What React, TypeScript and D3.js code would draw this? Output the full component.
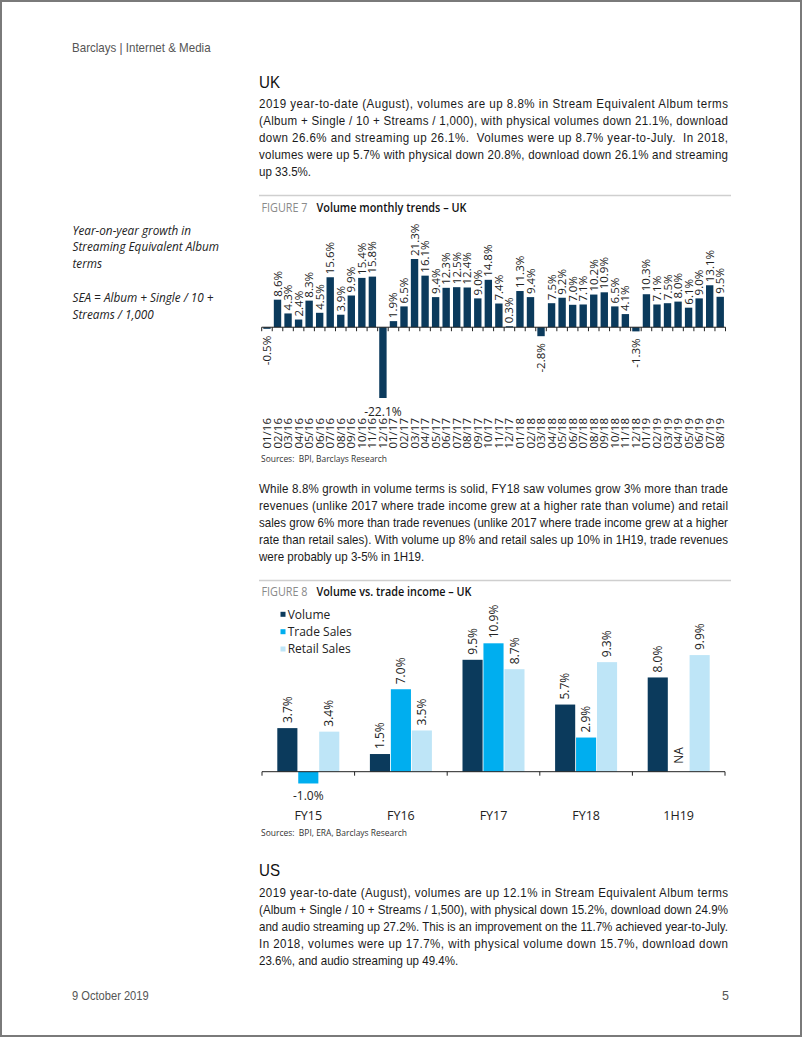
import React from "react";
import * as d3 from "d3";

// ---------- DATA ----------
const months = [
  "01/16", "02/16", "03/16", "04/16", "05/16", "06/16", "07/16", "08/16", "09/16", "10/16", "11/16", "12/16",
  "01/17", "02/17", "03/17", "04/17", "05/17", "06/17", "07/17", "08/17", "09/17", "10/17", "11/17", "12/17",
  "01/18", "02/18", "03/18", "04/18", "05/18", "06/18", "07/18", "08/18", "09/18", "10/18", "11/18", "12/18",
  "01/19", "02/19", "03/19", "04/19", "05/19", "06/19", "07/19", "08/19",
];
const monthlyGrowth = [
  -0.5, 8.6, 4.3, 2.4, 8.3, 4.5, 15.6, 3.9, 9.9, 15.4, 15.8, -22.1,
  1.9, 6.5, 21.3, 16.1, 9.4, 12.3, 12.5, 12.4, 9.0, 14.8, 7.4, 0.3,
  11.3, 9.4, -2.8, 7.5, 9.2, 7.0, 7.1, 10.2, 10.9, 6.5, 4.1, -1.3,
  10.3, 7.1, 7.5, 8.0, 6.1, 9.0, 13.1, 9.5,
];

const periods = ["FY15", "FY16", "FY17", "FY18", "1H19"];
const seriesNames = ["Volume", "Trade Sales", "Retail Sales"];
const volume = [3.7, 1.5, 9.5, 5.7, 8.0];
const tradeSales: (number | null)[] = [-1.0, 7.0, 10.9, 2.9, null];
const retailSales = [3.4, 3.5, 8.7, 9.3, 9.9];
const seriesColors = ["#0B3A5C", "#00AEEF", "#BEE5F7"];

const para1 = [
  "2019 year-to-date (August), volumes are up 8.8% in Stream Equivalent Album terms",
  "(Album + Single / 10 + Streams / 1,000), with physical volumes down 21.1%, download",
  "down 26.6% and streaming up 26.1%.  Volumes were up 8.7% year-to-July.  In 2018,",
  "volumes were up 5.7% with physical down 20.8%, download down 26.1% and streaming",
  "up 33.5%.",
];
const para2 = [
  "While 8.8% growth in volume terms is solid, FY18 saw volumes grow 3% more than trade",
  "revenues (unlike 2017 where trade income grew at a higher rate than volume) and retail",
  "sales grow 6% more than trade revenues (unlike 2017 where trade income grew at a higher",
  "rate than retail sales). With volume up 8% and retail sales up 10% in 1H19, trade revenues",
  "were probably up 3-5% in 1H19.",
];
const para3 = [
  "2019 year-to-date (August), volumes are up 12.1% in Stream Equivalent Album terms",
  "(Album + Single / 10 + Streams / 1,500), with physical down 15.2%, download down 24.9%",
  "and audio streaming up 27.2%. This is an improvement on the 11.7% achieved year-to-July.",
  "In 2018, volumes were up 17.7%, with physical volume down 15.7%, download down",
  "23.6%, and audio streaming up 49.4%.",
];
const sidebar = [
  "Year-on-year growth in",
  "Streaming Equivalent Album",
  "terms",
  "",
  "SEA = Album + Single / 10 +",
  "Streams / 1,000",
];

// ---------- STYLE ----------
const BODY_FONT = "'Liberation Sans', Arial, sans-serif";
const CHART_FONT = "'Open Sans', 'Noto Sans', sans-serif";
const SX = 0.89;
const TEXT_X = 259;
const TEXT_W = 469;

function Para({ lines, y0, lh }: { lines: string[]; y0: number; lh: number }) {
  return (
    <g fontFamily={BODY_FONT} fontSize={13} fill="#1a1a1a">
      {lines.map((t, i) => {
        const last = i === lines.length - 1;
        return (
          <text
            key={i}
            xmlSpace="preserve"
            style={{ whiteSpace: "pre" }}
            transform={`translate(${TEXT_X},${y0 + i * lh}) scale(${SX},1)`}
            textLength={last ? undefined : TEXT_W / SX}
            lengthAdjust="spacing"
          >
            {t}
          </text>
        );
      })}
    </g>
  );
}

const fmt = (v: number) => v.toFixed(1) + "%";

function Figure7() {
  const x = d3.scaleBand<string>().domain(months).range([261.7, 725.5]).paddingInner(0.3).paddingOuter(0.15);
  const y = d3.scaleLinear().domain([-22.1, 21.3]).range([398, 259]);
  const y0 = y(0);
  const step = x.step();
  const off = (step - x.bandwidth()) / 2;
  const ticks = months.map((m) => (x(m) as number) - off).concat([(x(months[months.length - 1]) as number) + x.bandwidth() + off]);
  const labelTop = 418;
  return (
    <g fontFamily={CHART_FONT}>
      <line x1={259} x2={731} y1={195.5} y2={195.5} stroke="#cfcfcf" strokeWidth={1.5} />
      <text x={261.5} y={212} fontSize={12.5} fill="#8a8a8a" textLength={46} lengthAdjust="spacingAndGlyphs">FIGURE 7</text>
      <text x={316.5} y={212} fontSize={12.5} fill="#111" fontWeight={600} textLength={150} lengthAdjust="spacingAndGlyphs">
        Volume monthly trends – UK
      </text>
      {monthlyGrowth.map((v, i) => {
        const m = months[i];
        const bx = x(m) as number;
        return (
          <rect key={m} x={bx} width={x.bandwidth()} y={Math.min(y(v), y0)} height={Math.abs(y(v) - y0)} fill={seriesColors[0]} />
        );
      })}
      <line x1={ticks[0]} x2={ticks[ticks.length - 1]} y1={y0} y2={y0} stroke="#222" strokeWidth={1} />
      {ticks.map((t, i) => (
        <line key={i} x1={t} x2={t} y1={y0} y2={y0 + 4} stroke="#222" strokeWidth={1} />
      ))}
      {monthlyGrowth.map((v, i) => {
        const m = months[i];
        const cx = (x(m) as number) + x.bandwidth() / 2;
        const txt = fmt(v);
        if (v >= 0) {
          return (
            <text key={m} transform={`translate(${cx},${y(v) - 3}) rotate(-90)`} dy="0.35em" fontSize={11.5} fill="#222">
              {txt}
            </text>
          );
        }
        const bottom = y(v);
        const len = txt.length * 6.8;
        if (bottom + 7 + len > labelTop - 2) {
          return (
            <text key={m} x={cx} y={bottom + 18} textAnchor="middle" fontSize={12} fill="#222">
              {txt}
            </text>
          );
        }
        return (
          <text key={m} transform={`translate(${cx},${bottom + 7}) rotate(-90)`} dy="0.35em" textAnchor="end" fontSize={11.5} fill="#222">
            {txt}
          </text>
        );
      })}
      {months.map((m) => {
        const cx = (x(m) as number) + x.bandwidth() / 2;
        return (
          <text key={m} transform={`translate(${cx},${labelTop}) rotate(-90)`} dy="0.35em" textAnchor="end" fontSize={11.5} fill="#222">
            {m}
          </text>
        );
      })}
      <text x={261} y={461.5} fontSize={9.5} fill="#333" xmlSpace="preserve" style={{ whiteSpace: "pre" }} textLength={126} lengthAdjust="spacingAndGlyphs">
        {"Sources:  BPI, Barclays Research"}
      </text>
    </g>
  );
}

function Figure8() {
  const x = d3.scaleBand<string>().domain(periods).range([262, 725]);
  const gw = x.bandwidth();
  const inner = d3.scaleBand<string>().domain(seriesNames).range([15.3, gw - 15.3]).paddingInner(0.04);
  const y = d3.scaleLinear().domain([0, 10.9]).range([771.7, 643.3]);
  const y0 = y(0);
  const data = [volume, tradeSales, retailSales];
  const ticks = periods.map((p) => x(p) as number).concat([725]);
  const legendY = [614.3, 631.7, 649];
  return (
    <g fontFamily={CHART_FONT}>
      <line x1={259} x2={731} y1={580.5} y2={580.5} stroke="#cfcfcf" strokeWidth={1.5} />
      <text x={261.5} y={596} fontSize={12.5} fill="#8a8a8a" textLength={46} lengthAdjust="spacingAndGlyphs">FIGURE 8</text>
      <text x={316.5} y={596} fontSize={12.5} fill="#111" fontWeight={600} textLength={155} lengthAdjust="spacingAndGlyphs">
        Volume vs. trade income – UK
      </text>
      {seriesNames.map((s, si) => (
        <g key={s}>
          <rect x={280.5} y={legendY[si] - 2.5} width={5} height={5} fill={seriesColors[si]} />
          <text x={287.7} y={legendY[si]} dy="0.35em" fontSize={12} fill="#222">{s}</text>
        </g>
      ))}
      {periods.map((p, pi) =>
        seriesNames.map((s, si) => {
          const v = data[si][pi];
          if (v === null || v === undefined) return null;
          const bx = (x(p) as number) + (inner(s) as number);
          return (
            <rect key={p + s} x={bx} width={inner.bandwidth()} y={Math.min(y(v), y0)} height={Math.abs(y(v) - y0)} fill={seriesColors[si]} />
          );
        })
      )}
      <line x1={262} x2={725} y1={y0} y2={y0} stroke="#222" strokeWidth={1} />
      {ticks.map((t, i) => (
        <line key={i} x1={t} x2={t} y1={y0} y2={y0 + 4} stroke="#222" strokeWidth={1} />
      ))}
      {periods.map((p, pi) =>
        seriesNames.map((s, si) => {
          const v = data[si][pi];
          const cx = (x(p) as number) + (inner(s) as number) + inner.bandwidth() / 2;
          if (v === null || v === undefined) {
            return (
              <text key={p + s} transform={`translate(${cx},${y0 - 8}) rotate(-90)`} dy="0.35em" fontSize={12} fill="#222">NA</text>
            );
          }
          const txt = fmt(v);
          if (v >= 0) {
            return (
              <text key={p + s} transform={`translate(${cx},${y(v) - 5}) rotate(-90)`} dy="0.35em" fontSize={12} fill="#222">{txt}</text>
            );
          }
          return (
            <text key={p + s} x={cx} y={y(v) + 17} textAnchor="middle" fontSize={12} fill="#222">{txt}</text>
          );
        })
      )}
      {periods.map((p) => (
        <text key={p} x={(x(p) as number) + gw / 2} y={819.5} textAnchor="middle" fontSize={12.5} fill="#222">{p}</text>
      ))}
      <text x={261} y={835.5} fontSize={9.5} fill="#333" xmlSpace="preserve" style={{ whiteSpace: "pre" }} textLength={146} lengthAdjust="spacingAndGlyphs">
        {"Sources:  BPI, ERA, Barclays Research"}
      </text>
    </g>
  );
}

export default function App() {
  const sideY = [234.5, 251.2, 268, 285, 302, 318.6];
  return (
    <svg width={802} height={1037} style={{ position: "absolute", left: 0, top: 0, background: "#fff" }}>
      <rect x={0} y={0} width={802} height={1037} fill="#fff" />
      <rect x={1} y={1} width={800} height={1035} fill="none" stroke="#7a7a7a" strokeWidth={2} />
      <text transform={`translate(72,51.5) scale(${SX},1)`} fontFamily={BODY_FONT} fontSize={13} fill="#555">
        Barclays | Internet &amp; Media
      </text>
      <text transform={`translate(259,87.5) scale(${SX},1)`} fontFamily={BODY_FONT} fontSize={17} fill="#111">UK</text>
      <Para lines={para1} y0={107.5} lh={17.2} />
      <g fontFamily={CHART_FONT} fontStyle="italic" fontSize={12.5} fill="#222">
        {sidebar.map((t, i) =>
          t ? (
            <text key={i} transform={`translate(72.5,${sideY[i]}) scale(0.94,1)`}>{t}</text>
          ) : null
        )}
      </g>
      <Figure7 />
      <Para lines={para2} y0={492.5} lh={17.1} />
      <Figure8 />
      <text transform={`translate(259,876) scale(${SX},1)`} fontFamily={BODY_FONT} fontSize={17} fill="#111">US</text>
      <Para lines={para3} y0={896.8} lh={17} />
      <text transform={`translate(72,999.5) scale(${SX},1)`} fontFamily={BODY_FONT} fontSize={12.5} fill="#555">9 October 2019</text>
      <text x={729} y={999.5} textAnchor="end" fontFamily={BODY_FONT} fontSize={12.5} fill="#555">5</text>
    </svg>
  );
}
